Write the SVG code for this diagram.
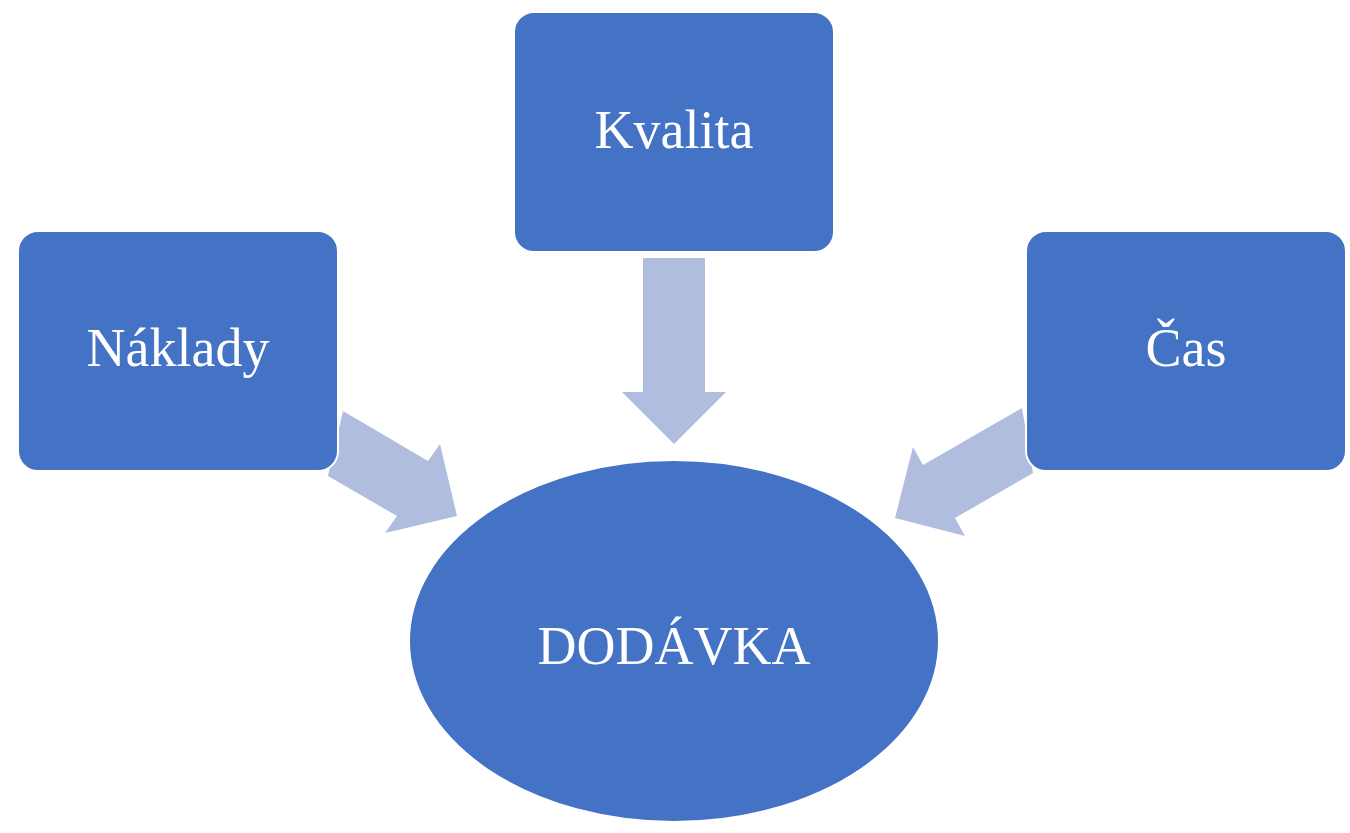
<svg xmlns="http://www.w3.org/2000/svg" width="1350" height="833" viewBox="0 0 1350 833">
<style>
.n{fill:#4472C4;stroke:#fff;stroke-width:2}
.t{fill:#fff;font-family:"Liberation Serif",serif;font-size:54px;text-anchor:middle}
.a{fill:#B0BDDF}
</style>
<rect width="1350" height="833" fill="#fff"/>
<g id="connectors">
<polygon class="a" points="643,258 705,258 705,392 726,392 674,444 622,392 643,392"/>
<polygon class="a" points="343,411 428,461 440,444 457,516 385,533 397,516 328,476"/>
<polygon class="a" points="1022,408 923,465 913,447 895,518 965,536 955,518 1033,473"/>
</g>
<g id="kvalita"><rect class="n" x="514" y="12" width="320" height="240" rx="20"/><text class="t" x="674" y="148">Kvalita</text></g>
<g id="naklady"><rect class="n" x="18" y="231" width="320" height="240" rx="20"/><text class="t" x="178" y="366">Náklady</text></g>
<g id="cas"><rect class="n" x="1026" y="231" width="320" height="240" rx="20"/><text class="t" x="1186" y="366">Čas</text></g>
<g id="dodavka"><ellipse class="n" cx="674" cy="641" rx="265" ry="181"/><text class="t" x="674" y="664" font-size="66">DODÁVKA</text></g>
</svg>
